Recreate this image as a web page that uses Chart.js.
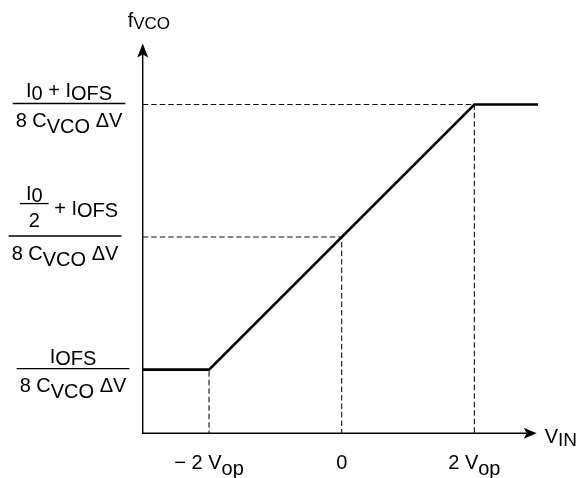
<!DOCTYPE html>
<html>
<head>
<meta charset="utf-8">
<script src="https://cdn.jsdelivr.net/npm/chart.js@4.4.1/dist/chart.umd.min.js"></script>
<style>
  html, body { margin: 0; padding: 0; background: #fff; overflow: hidden; }
  #wrap { width: 580px; height: 478px; position: relative; }
</style>
</head>
<body>
<div id="wrap"><canvas id="vcoChart"></canvas></div>
<script>
// transfer characteristic
const vIn = [-3, -2, 2, 2.96];
const fVco = [1, 1, 3, 3];

// guide lines: x ticks and the level of the curve at each of them
const xTickValues = [-2, 0, 2];
const xTickLabels = ["\u2212 2 V_{op}", "0", "2 V_{op}"];
const yTickValues = [1, 2, 3];
const yTickNumerators = ["I_{OFS}", "[I_{0}/2] + I_{OFS}", "I_{0} + I_{OFS}"];
const yTickDenominator = "8 C_{VCO} \u0394V";
const xTitle = "V_{IN}";
const yTitle = "f_{VCO}";

const xMin = -3, xMax = 2.94;
const yMin = 0.52, yMax = 3.46;

const FONT = '"Liberation Sans", Arial, sans-serif';

// very small markup: _{..} is a subscript
function parseRich(s) {
  const segs = [];
  const re = /_\{([^}]*)\}/g;
  let last = 0, m;
  while ((m = re.exec(s))) {
    if (m.index > last) segs.push({ t: s.slice(last, m.index), sub: false });
    segs.push({ t: m[1], sub: true });
    last = re.lastIndex;
  }
  if (last < s.length) segs.push({ t: s.slice(last), sub: false });
  return segs;
}

function richWidth(ctx, s, size, subSize) {
  let w = 0;
  parseRich(s).forEach(g => {
    ctx.font = (g.sub ? subSize : size) + "px " + FONT;
    w += ctx.measureText(g.t).width;
  });
  return w;
}

function drawRich(ctx, s, x, y, size, subSize, subDy) {
  parseRich(s).forEach(g => {
    ctx.font = (g.sub ? subSize : size) + "px " + FONT;
    ctx.fillText(g.t, x, g.sub ? y + subDy : y);
    x += ctx.measureText(g.t).width;
  });
  return x;
}

function drawRichCentered(ctx, s, cx, y, size, subSize, subDy) {
  drawRich(ctx, s, cx - richWidth(ctx, s, size, subSize) / 2, y, size, subSize, subDy);
}

// guide datasets built from the tick arrays
const guides = xTickValues.map((xv, i) => ({
  data: [
    { x: xMin, y: yTickValues[i] },
    { x: xv, y: yTickValues[i] },
    { x: xv, y: yMin }
  ],
  borderColor: "#111",
  borderWidth: 1.1,
  borderDash: [5.5, 3],
  pointRadius: 0,
  fill: false,
  order: 2,
  clip: false
}));

const diagram = {
  id: "diagram",
  afterDraw(chart, args, opts) {
    const { ctx, chartArea: a, scales: { x, y } } = chart;
    ctx.save();
    ctx.fillStyle = "#000";
    ctx.strokeStyle = "#000";
    ctx.textAlign = "left";
    ctx.textBaseline = "alphabetic";

    // axes with arrow heads
    ctx.lineWidth = 1.4;
    ctx.beginPath();
    ctx.moveTo(a.left, a.top + 8);
    ctx.lineTo(a.left, a.bottom);
    ctx.lineTo(a.right - 8, a.bottom);
    ctx.stroke();

    ctx.beginPath();
    ctx.moveTo(a.right, a.bottom);
    ctx.lineTo(a.right - 13, a.bottom - 5.5);
    ctx.lineTo(a.right - 10, a.bottom);
    ctx.lineTo(a.right - 13, a.bottom + 5.5);
    ctx.closePath();
    ctx.fill();

    ctx.beginPath();
    ctx.moveTo(a.left, a.top);
    ctx.lineTo(a.left - 5.5, a.top + 14);
    ctx.lineTo(a.left, a.top + 11);
    ctx.lineTo(a.left + 5.5, a.top + 14);
    ctx.closePath();
    ctx.fill();

    // axis titles
    drawRich(ctx, yTitle, a.left - 15, a.top - 17, 20, 17, 2.5);
    drawRich(ctx, xTitle, a.right + 8, a.bottom + 10, 20, 19, 3);

    // x tick labels
    xTickValues.forEach((v, i) => {
      drawRichCentered(ctx, xTickLabels[i], x.getPixelForValue(v), a.bottom + 36, 20, 20, 6);
    });

    // y tick labels as fractions
    yTickValues.forEach((v, i) => {
      const cx = opts.labelCenters[i];
      const barY = y.getPixelForValue(v) - 1;
      const num = yTickNumerators[i];
      const denW = richWidth(ctx, yTickDenominator, 20, 20);
      let numW;
      const frac = num.match(/^\[(.+)\/(.+)\](.*)$/);
      if (frac) {
        const topW = richWidth(ctx, frac[1], 20, 20);
        const botW = richWidth(ctx, frac[2], 20, 20);
        const fracW = Math.max(topW, botW) + 12;
        const restW = richWidth(ctx, frac[3], 20, 20);
        numW = fracW + restW;
        const left = cx - numW / 2 + 4;
        const fcx = left + fracW / 2;
        drawRichCentered(ctx, frac[1], fcx, barY - 36.5, 20, 20, 2.5);
        drawRichCentered(ctx, frac[2], fcx, barY - 9.5, 20, 20, 2.5);
        ctx.lineWidth = 1.3;
        ctx.beginPath();
        ctx.moveTo(left, barY - 32.5);
        ctx.lineTo(left + fracW, barY - 32.5);
        ctx.stroke();
        drawRich(ctx, frac[3], left + fracW, barY - 21.5, 20, 20, 2);
      } else {
        numW = richWidth(ctx, num, 20, 20);
        drawRichCentered(ctx, num, cx, barY - 6, 20, 20, 2.5);
      }
      const barW = Math.max(numW, denW) + 6;
      ctx.lineWidth = 1.4;
      ctx.beginPath();
      ctx.moveTo(cx - barW / 2, barY);
      ctx.lineTo(cx + barW / 2, barY);
      ctx.stroke();
      drawRichCentered(ctx, yTickDenominator, cx, barY + 23.5, 20, 20, 6);
    });
    ctx.restore();
  }
};

new Chart(document.getElementById("vcoChart"), {
  type: "line",
  data: {
    datasets: [{
      data: vIn.map((v, i) => ({ x: v, y: fVco[i] })),
      borderColor: "#000",
      borderWidth: 2.6,
      pointRadius: 0,
      tension: 0,
      fill: false,
      order: 1,
      clip: false
    }].concat(guides)
  },
  options: {
    responsive: true,
    maintainAspectRatio: false,
    animation: false,
    layout: { padding: { left: 142.7, right: 43.3, top: 43.5, bottom: 44.7 } },
    scales: {
      x: { type: "linear", min: xMin, max: xMax, display: false },
      y: { type: "linear", min: yMin, max: yMax, display: false }
    },
    plugins: {
      legend: { display: false },
      tooltip: { enabled: false },
      diagram: { labelCenters: [73, 65, 69] }
    }
  },
  plugins: [diagram]
});
</script>
</body>
</html>
